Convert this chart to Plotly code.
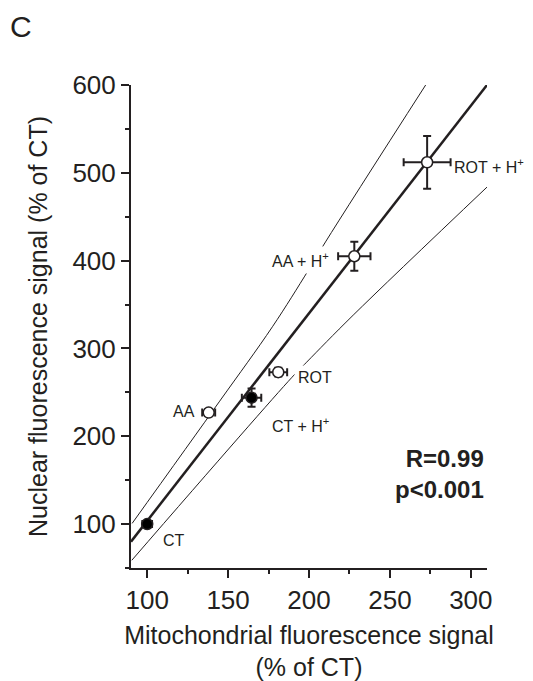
import plotly.graph_objects as go

# Data
names = ["CT", "CT + H<sup>+</sup>", "AA", "ROT", "AA + H<sup>+</sup>", "ROT + H<sup>+</sup>"]
mito = [100, 164.5, 138, 181, 228, 273]
nuc = [100, 244, 227, 273, 405, 512]
mito_err = [3, 6, 4, 5.5, 10, 14.5]
nuc_err = [2, 10.5, 4, 5, 16.5, 30]
marker_fill = ["black", "black", "white", "white", "white", "white"]

reg_x = [90, 310]
reg_y = [80, 600]
upper_x = [90.7, 144.8, 177.4, 199.4, 210.2, 272.8]
upper_y = [100.8, 240, 324.7, 388.4, 421.3, 602]
lower_x = [90.5, 189.2, 198.5, 227.3, 310.5]
lower_y = [58.8, 266.6, 284.3, 337.9, 484.6]

label_x = [116.7, 195, 122.6, 203.5, 195, 311.5]
label_y = [81, 213, 228, 267, 401, 508]
label_bg = [False, False, False, True, True, False]

x_range = [90, 310]
y_range = [50, 600]
x_ticks = [100, 150, 200, 250, 300]
y_ticks = [100, 200, 300, 400, 500, 600]

ink = "#231f20"
FONT = "Liberation Sans, Arial, sans-serif"

W, H = 533, 681
L, R, T, B = 123, 54, 77, 116
PW, PH = W - L - R, H - T - B

fig = go.Figure()
fig.add_trace(go.Scatter(x=upper_x, y=upper_y, mode="lines", line=dict(color=ink, width=1, shape="spline"), hoverinfo="skip"))
fig.add_trace(go.Scatter(x=lower_x, y=lower_y, mode="lines", line=dict(color=ink, width=1, shape="spline"), hoverinfo="skip"))
fig.add_trace(go.Scatter(x=reg_x, y=reg_y, mode="lines", line=dict(color=ink, width=2.5), hoverinfo="skip"))
fig.add_trace(go.Scatter(
    x=mito, y=nuc, mode="markers",
    marker=dict(size=11, color=marker_fill, line=dict(color=ink, width=1.5)),
    error_x=dict(type="data", array=mito_err, color=ink, thickness=2, width=4),
    error_y=dict(type="data", array=nuc_err, color=ink, thickness=2, width=4),
    cliponaxis=False,
))

def to_paper(xv, yv):
    return ((xv - x_range[0]) / (x_range[1] - x_range[0]),
            (yv - y_range[0]) / (y_range[1] - y_range[0]))

annotations = []
for n, lx, ly, bg in zip(names, label_x, label_y, label_bg):
    px, py = to_paper(lx, ly)
    annotations.append(dict(
        x=px, y=py, xref="paper", yref="paper", text=n, showarrow=False,
        xanchor="center", yanchor="middle",
        font=dict(family=FONT, size=16, color=ink),
        bgcolor="white" if bg else "rgba(0,0,0,0)", borderpad=3 if bg else 1,
    ))
px, py = to_paper(309.4, 157)
annotations.append(dict(
    x=px, y=py, xref="paper", yref="paper", text="<b>R=0.99<br>p<0.001</b>", showarrow=False,
    xanchor="right", yanchor="middle", align="right", font=dict(family=FONT, size=24, color=ink),
))
annotations.append(dict(
    x=(13 - L) / PW, y=1 + (T - 18) / PH, xref="paper", yref="paper", text="C", showarrow=False,
    xanchor="center", yanchor="middle",
    font=dict(family=FONT, size=30, color=ink),
))

fig.update_layout(
    width=W, height=H,
    margin=dict(l=L, r=R, t=T, b=B),
    plot_bgcolor="white", paper_bgcolor="white",
    showlegend=False,
    font=dict(family=FONT, color=ink),
    annotations=annotations,
)
fig.update_xaxes(
    range=x_range, tickvals=x_ticks, showgrid=False, zeroline=False,
    showline=True, linewidth=2, linecolor=ink,
    ticks="outside", ticklen=8, tickwidth=2, tickcolor=ink,
    minor=dict(dtick=25, tick0=0, ticks="outside", ticklen=4, tickwidth=2, tickcolor=ink),
    tickfont=dict(family=FONT, size=26, color=ink),
    title=dict(text="Mitochondrial fluorescence signal<br>(% of CT)", font=dict(family=FONT, size=25, color=ink), standoff=12),
)
fig.update_yaxes(
    range=y_range, tickvals=y_ticks, showgrid=False, zeroline=False,
    showline=True, linewidth=2, linecolor=ink,
    ticks="outside", ticklen=8, tickwidth=2, tickcolor=ink,
    minor=dict(dtick=50, tick0=0, ticks="outside", ticklen=4, tickwidth=2, tickcolor=ink),
    tickfont=dict(family=FONT, size=26, color=ink),
    title=dict(text="Nuclear fluorescence signal (% of CT)", font=dict(family=FONT, size=25, color=ink), standoff=18),
)

fig.write_html("out.html")
